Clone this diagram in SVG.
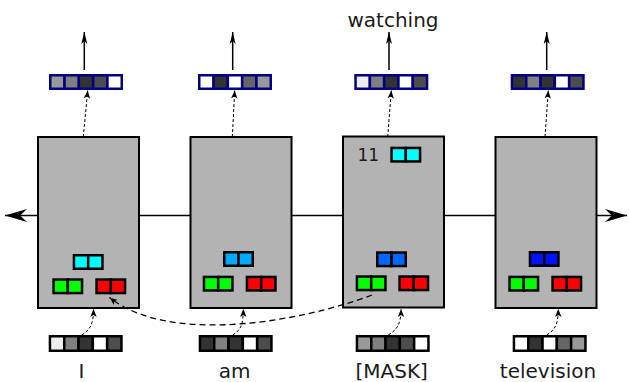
<svg xmlns="http://www.w3.org/2000/svg" width="629" height="382" viewBox="0 0 629 382">
  <style>
    .box { fill: #b3b3b3; stroke: #000; stroke-width: 2; }
    .vo rect { stroke: #000080; stroke-width: 2.5; }
    .vi rect { stroke: #000; stroke-width: 2.5; }
    .pair rect { stroke: #000; stroke-width: 2.5; }
    .lbl { font-family: "DejaVu Sans", sans-serif; font-size: 20px; fill: #1a1a1a; text-anchor: middle; }
    .num { font-family: "DejaVu Sans", sans-serif; font-size: 17px; fill: #1a1a1a; }
    .solid { fill: none; stroke: #000; stroke-width: 1.5; }
    .dash { fill: none; stroke: #000; stroke-width: 1; stroke-dasharray: 3 2; }
    .ldash { fill: none; stroke: #000; stroke-width: 1.3; stroke-dasharray: 6 4; }
    .c0 { fill: #ffffff; } .c1 { fill: #eeeeee; } .c2 { fill: #999999; }
    .c3 { fill: #808080; } .c4 { fill: #666666; } .c5 { fill: #4d4d4d; } .c6 { fill: #333333; }
    .cyan { fill: #00ffff; } .sky { fill: #00aaff; } .azure { fill: #0066ff; } .blue { fill: #0011ff; }
    .green { fill: #00ff00; } .red { fill: #ff0000; }
  </style>
  <defs>
    <marker id="headBig" markerUnits="userSpaceOnUse" orient="auto-start-reverse" overflow="visible" markerWidth="1" markerHeight="1">
      <path d="M0,0 L-22,-6.5 L-15,0 L-22,6.5 Z" fill="#000"/>
    </marker>
    <marker id="headUp" markerUnits="userSpaceOnUse" orient="auto" overflow="visible" markerWidth="1" markerHeight="1">
      <path d="M0,0 L-12,-3 L-9,0 L-12,3 Z" fill="#000"/>
    </marker>
    <marker id="headDash" markerUnits="userSpaceOnUse" orient="auto" overflow="visible" markerWidth="1" markerHeight="1">
      <path d="M0,0 L-8,-3.2 L-6,0 L-8,3.2 Z" fill="#000"/>
    </marker>
  </defs>

  <!-- recurrent connection running through all encoder blocks -->
  <g id="timeline">
    <path class="solid" d="M5,215.5 L627,215.5" marker-start="url(#headBig)" marker-end="url(#headBig)"/>
  </g>

  <!-- encoder blocks -->
  <g id="block-I">
    <rect class="box" x="38" y="137" width="101" height="171"/>
    <g class="pair" transform="translate(72.7,254)"><rect class="cyan" x="1.25" y="1.25" width="14.25" height="13.5"/><rect class="cyan" x="15.5" y="1.25" width="14.25" height="13.5"/></g>
    <g class="pair" transform="translate(52.3,278.3)"><rect class="green" x="1.25" y="1.25" width="14.25" height="13.5"/><rect class="green" x="15.5" y="1.25" width="14.25" height="13.5"/></g>
    <g class="pair" transform="translate(95.3,278.3)"><rect class="red" x="1.25" y="1.25" width="14.25" height="13.5"/><rect class="red" x="15.5" y="1.25" width="14.25" height="13.5"/></g>
  </g>
  <g id="block-am">
    <rect class="box" x="190.5" y="137" width="101" height="171"/>
    <g class="pair" transform="translate(223,251)"><rect class="sky" x="1.25" y="1.25" width="14.25" height="13.5"/><rect class="sky" x="15.5" y="1.25" width="14.25" height="13.5"/></g>
    <g class="pair" transform="translate(202.7,275.7)"><rect class="green" x="1.25" y="1.25" width="14.25" height="13.5"/><rect class="green" x="15.5" y="1.25" width="14.25" height="13.5"/></g>
    <g class="pair" transform="translate(245.7,275.7)"><rect class="red" x="1.25" y="1.25" width="14.25" height="13.5"/><rect class="red" x="15.5" y="1.25" width="14.25" height="13.5"/></g>
  </g>
  <g id="block-mask">
    <rect class="box" x="343" y="136.5" width="101" height="171"/>
    <text class="num" x="357.5" y="161">11</text>
    <g class="pair" transform="translate(390.3,146.7)"><rect class="cyan" x="1.25" y="1.25" width="14.25" height="13.5"/><rect class="cyan" x="15.5" y="1.25" width="14.25" height="13.5"/></g>
    <g class="pair" transform="translate(376,251.3)"><rect class="azure" x="1.25" y="1.25" width="14.25" height="13.5"/><rect class="azure" x="15.5" y="1.25" width="14.25" height="13.5"/></g>
    <g class="pair" transform="translate(355.7,275.3)"><rect class="green" x="1.25" y="1.25" width="14.25" height="13.5"/><rect class="green" x="15.5" y="1.25" width="14.25" height="13.5"/></g>
    <g class="pair" transform="translate(398.3,275.3)"><rect class="red" x="1.25" y="1.25" width="14.25" height="13.5"/><rect class="red" x="15.5" y="1.25" width="14.25" height="13.5"/></g>
  </g>
  <g id="block-television">
    <rect class="box" x="495.5" y="137" width="101" height="171"/>
    <g class="pair" transform="translate(528.7,251)"><rect class="blue" x="1.25" y="1.25" width="14.25" height="13.5"/><rect class="blue" x="15.5" y="1.25" width="14.25" height="13.5"/></g>
    <g class="pair" transform="translate(508.3,275.7)"><rect class="green" x="1.25" y="1.25" width="14.25" height="13.5"/><rect class="green" x="15.5" y="1.25" width="14.25" height="13.5"/></g>
    <g class="pair" transform="translate(551.3,275.7)"><rect class="red" x="1.25" y="1.25" width="14.25" height="13.5"/><rect class="red" x="15.5" y="1.25" width="14.25" height="13.5"/></g>
  </g>

  <!-- output vectors -->
  <g id="out-I" class="vo" transform="translate(49,74)">
    <rect class="c2" x="1.25" y="1.25" width="14.3" height="13.5"/><rect class="c3" x="15.55" y="1.25" width="14.3" height="13.5"/><rect class="c6" x="29.85" y="1.25" width="14.3" height="13.5"/><rect class="c5" x="44.15" y="1.25" width="14.3" height="13.5"/><rect class="c0" x="58.45" y="1.25" width="14.3" height="13.5"/>
  </g>
  <g id="out-am" class="vo" transform="translate(198,74)">
    <rect class="c0" x="1.25" y="1.25" width="14.3" height="13.5"/><rect class="c6" x="15.55" y="1.25" width="14.3" height="13.5"/><rect class="c0" x="29.85" y="1.25" width="14.3" height="13.5"/><rect class="c4" x="44.15" y="1.25" width="14.3" height="13.5"/><rect class="c2" x="58.45" y="1.25" width="14.3" height="13.5"/>
  </g>
  <g id="out-mask" class="vo" transform="translate(354.3,74)">
    <rect class="c1" x="1.25" y="1.25" width="14.3" height="13.5"/><rect class="c3" x="15.55" y="1.25" width="14.3" height="13.5"/><rect class="c6" x="29.85" y="1.25" width="14.3" height="13.5"/><rect class="c0" x="44.15" y="1.25" width="14.3" height="13.5"/><rect class="c5" x="58.45" y="1.25" width="14.3" height="13.5"/>
  </g>
  <g id="out-television" class="vo" transform="translate(510.7,74)">
    <rect class="c6" x="1.25" y="1.25" width="14.3" height="13.5"/><rect class="c3" x="15.55" y="1.25" width="14.3" height="13.5"/><rect class="c6" x="29.85" y="1.25" width="14.3" height="13.5"/><rect class="c0" x="44.15" y="1.25" width="14.3" height="13.5"/><rect class="c5" x="58.45" y="1.25" width="14.3" height="13.5"/>
  </g>

  <!-- input embeddings -->
  <g id="in-I" class="vi" transform="translate(48.7,335)">
    <rect class="c1" x="1.25" y="1.25" width="14.3" height="14.5"/><rect class="c3" x="15.55" y="1.25" width="14.3" height="14.5"/><rect class="c6" x="29.85" y="1.25" width="14.3" height="14.5"/><rect class="c0" x="44.15" y="1.25" width="14.3" height="14.5"/><rect class="c5" x="58.45" y="1.25" width="14.3" height="14.5"/>
  </g>
  <g id="in-am" class="vi" transform="translate(198.7,335)">
    <rect class="c6" x="1.25" y="1.25" width="14.3" height="14.5"/><rect class="c3" x="15.55" y="1.25" width="14.3" height="14.5"/><rect class="c6" x="29.85" y="1.25" width="14.3" height="14.5"/><rect class="c0" x="44.15" y="1.25" width="14.3" height="14.5"/><rect class="c5" x="58.45" y="1.25" width="14.3" height="14.5"/>
  </g>
  <g id="in-mask" class="vi" transform="translate(355.7,335)">
    <rect class="c2" x="1.25" y="1.25" width="14.3" height="14.5"/><rect class="c3" x="15.55" y="1.25" width="14.3" height="14.5"/><rect class="c6" x="29.85" y="1.25" width="14.3" height="14.5"/><rect class="c5" x="44.15" y="1.25" width="14.3" height="14.5"/><rect class="c0" x="58.45" y="1.25" width="14.3" height="14.5"/>
  </g>
  <g id="in-television" class="vi" transform="translate(512.7,335)">
    <rect class="c0" x="1.25" y="1.25" width="14.3" height="14.5"/><rect class="c6" x="15.55" y="1.25" width="14.3" height="14.5"/><rect class="c0" x="29.85" y="1.25" width="14.3" height="14.5"/><rect class="c4" x="44.15" y="1.25" width="14.3" height="14.5"/><rect class="c2" x="58.45" y="1.25" width="14.3" height="14.5"/>
  </g>

  <!-- word labels -->
  <g id="labels">
    <text class="lbl" x="393" y="27">watching</text>
    <text class="lbl" x="81.5" y="378">I</text>
    <text class="lbl" x="234.7" y="378">am</text>
    <text class="lbl" x="391.7" y="378">[MASK]</text>
    <text class="lbl" x="548" y="378">television</text>
  </g>

  <!-- connectors -->
  <g id="connectors">
    <path class="solid" d="M84.3,70 L84.3,32" marker-end="url(#headUp)"/>
    <path class="solid" d="M232.7,70 L232.7,32" marker-end="url(#headUp)"/>
    <path class="solid" d="M389,70 L389,32" marker-end="url(#headUp)"/>
    <path class="solid" d="M546.7,70 L546.7,32" marker-end="url(#headUp)"/>

    <path class="dash" d="M83.3,137 L87.7,90.5" marker-end="url(#headDash)"/>
    <path class="dash" d="M232.3,137 L234.7,90.5" marker-end="url(#headDash)"/>
    <path class="dash" d="M387.7,137 L391.3,90.5" marker-end="url(#headDash)"/>
    <path class="dash" d="M545,137 L548.3,90.5" marker-end="url(#headDash)"/>

    <path class="dash" d="M81.7,335 C89.7,330 93.5,325 93.5,309" marker-end="url(#headDash)"/>
    <path class="dash" d="M232.7,335 C240.7,330 243.3,325 243.3,309" marker-end="url(#headDash)"/>
    <path class="dash" d="M388.3,335 C396.3,330 401,325 401,309" marker-end="url(#headDash)"/>
    <path class="dash" d="M546.7,335 C554.7,330 558.3,325 558.3,309" marker-end="url(#headDash)"/>

    <path class="ldash" d="M372,295 C300,322 170,345 109.5,297.5" marker-end="url(#headDash)"/>
  </g>
</svg>
